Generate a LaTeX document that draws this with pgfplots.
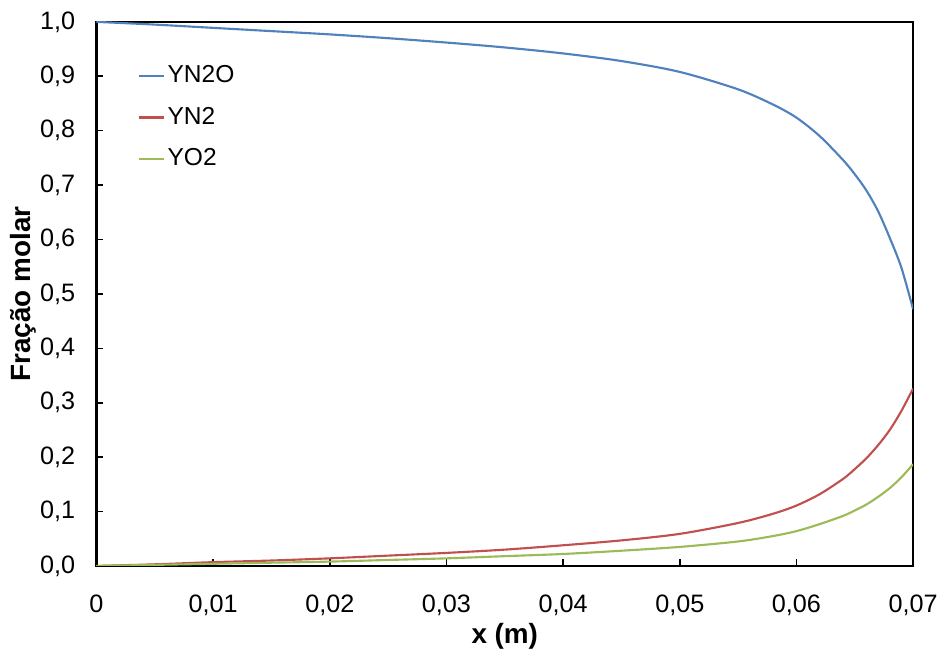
\documentclass[border=0pt]{standalone}
\usepackage{pgfplots}
\pgfplotsset{compat=1.18}
\usepackage{fontspec}
\setmainfont{Liberation Sans}
\definecolor{exblue}{HTML}{4F81BD}
\definecolor{exred}{HTML}{C0504D}
\definecolor{exgreen}{HTML}{9BBB59}
\pgfplotstableread{
x yn2o yn2 yo2
0 1.000 0.000 0.000
0.005 0.995 0.003 0.002
0.01 0.989 0.007 0.004
0.015 0.983 0.010 0.006
0.02 0.977 0.014 0.008
0.025 0.970 0.019 0.011
0.03 0.962 0.024 0.014
0.035 0.953 0.030 0.018
0.04 0.942 0.038 0.022
0.045 0.928 0.047 0.028
0.05 0.908 0.059 0.035
0.055 0.876 0.079 0.045
0.058 0.848 0.096 0.055
0.06 0.824 0.111 0.064
0.062 0.790 0.132 0.077
0.064 0.746 0.160 0.092
0.065 0.720 0.178 0.102
0.066 0.690 0.198 0.113
0.067 0.652 0.222 0.127
0.068 0.603 0.250 0.143
0.069 0.548 0.285 0.163
0.07 0.472 0.326 0.187
}\datatable
\begin{document}
\fontsize{19}{23}\selectfont
\begin{tikzpicture}
\begin{axis}[
  scale only axis,
  width=615.75pt, height=410.25pt,
  xmin=0, xmax=0.07, ymin=0, ymax=1,
  scaled x ticks=false, scaled y ticks=false,
  axis line style={black, line width=1.6pt},
  xtick={0,0.01,0.02,0.03,0.04,0.05,0.06,0.07},
  xticklabels={0,{0,01},{0,02},{0,03},{0,04},{0,05},{0,06},{0,07}},
  ytick={0,0.1,0.2,0.3,0.4,0.5,0.6,0.7,0.8,0.9,1},
  yticklabels={{0,0},{0,1},{0,2},{0,3},{0,4},{0,5},{0,6},{0,7},{0,8},{0,9},{1,0}},
  xtick pos=left, ytick pos=left,
  tick align=inside,
  major tick length=5pt,
  tick style={black, line width=1.2pt},
  ticklabel style={font=\fontsize{19}{23}\selectfont},
  yticklabel style={xshift=-9.5pt},
  xticklabel style={yshift=-15pt},
  xlabel={\textbf{x (m)}},
  ylabel={\textbf{Fração molar}},
  label style={font=\fontsize{21}{25}\selectfont},
  x label style={at={(axis description cs:0.5,-0.13)}, anchor=center},
  y label style={at={(axis description cs:-0.09,0.5)}, anchor=center},
  legend style={at={(0.05,0.925)}, anchor=north west, draw=none, fill=none,
    font=\fontsize{18.5}{22}\selectfont, row sep=11.5pt, inner sep=0pt},
  legend cell align=left,
  legend image code/.code={\draw[#1, line width=1.6pt] (0pt,0pt) -- (19pt,0pt);},
  every axis plot/.append style={line width=1.6pt},
  clip=true,
]
\addplot[exblue, smooth] table[x=x,y=yn2o]{\datatable};
\addlegendentry{YN2O}
\addplot[exred, smooth] table[x=x,y=yn2]{\datatable};
\addlegendentry{YN2}
\addplot[exgreen, smooth] table[x=x,y=yo2]{\datatable};
\addlegendentry{YO2}
\end{axis}
\path (current axis.south west) ++(-72.75pt,-68.25pt);
\path (current axis.north east) ++(21pt,16.5pt);
\end{tikzpicture}
\end{document}
